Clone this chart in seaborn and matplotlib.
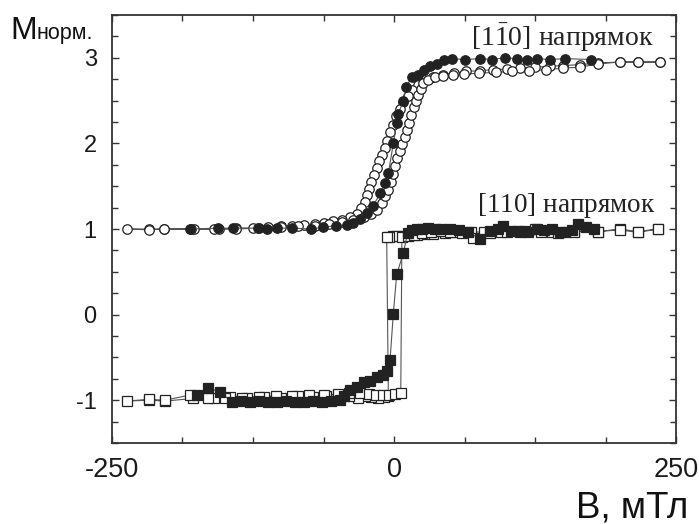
import numpy as np
import pandas as pd
import matplotlib
matplotlib.use("Agg")
import matplotlib.pyplot as plt
from matplotlib.ticker import MultipleLocator
import seaborn as sns

# ---- [1-10] direction: open circles (full loop) ----
circ_open_b = [236, 216, 200, 181, 165, 150, 138, 125, 112, 100, 88, 76, 64, 53, 43, 35,
               27, 21, 16, 12, 8, 5, 2, -1, -3.5, -6, -8, -10.5, -13, -15.5, -18, -20, -22,
               -24, -26, -29, -33, -39, -46, -54, -62, -70, -80, -90, -100, -112, -125, -140,
               -155, -177, -204, -217, -237,
               -217, -204, -180, -160, -140, -120, -100, -85, -70, -58, -46, -36, -27, -20,
               -15, -11, -8, -5.5, -3, -1, 1, 3, 5, 7, 9.5, 11.5, 13.5, 15.5, 17.5, 19.5,
               21.5, 23.5, 26, 30, 36, 43, 52, 62, 75, 90, 105, 120, 135, 150, 165, 181, 200,
               216, 236]
circ_open_m = [2.95, 2.95, 2.95, 2.94, 2.92, 2.91, 2.90, 2.89, 2.88, 2.87, 2.86, 2.85, 2.84,
               2.82, 2.80, 2.78, 2.74, 2.68, 2.62, 2.55, 2.48, 2.40, 2.32, 2.22, 2.13, 2.03,
               1.95, 1.87, 1.79, 1.71, 1.63, 1.55, 1.47, 1.40, 1.32, 1.24, 1.18, 1.14, 1.11,
               1.09, 1.07, 1.06, 1.05, 1.04, 1.03, 1.02, 1.01, 1.01, 1.00, 1.00, 1.00, 1.00,
               1.00,
               0.99, 1.00, 1.00, 1.00, 1.00, 1.01, 1.02, 1.03, 1.04, 1.06, 1.08, 1.11, 1.14,
               1.17, 1.22, 1.30, 1.38, 1.46, 1.55, 1.64, 1.74, 1.83, 1.91, 1.99, 2.07, 2.16,
               2.24, 2.33, 2.42, 2.50, 2.57, 2.64, 2.70, 2.74, 2.77, 2.79, 2.80, 2.81, 2.82,
               2.83, 2.84, 2.85, 2.86, 2.88, 2.89, 2.93, 2.95, 2.95, 2.95]

# ---- [1-10] direction: filled circles ----
circ_fill_b = [-181, -156, -143, -121, -113, -104, -90, -74, -63, -51, -42, -36, -30, -24,
               -18.6, -12, -8, -5, -0.6, 2.4, 3.6, 8, 11, 15.7, 21.5, 27, 32, 38, 44, 51, 63,
               76, 87, 98, 109, 118, 127, 138, 152, 175]
circ_fill_m = [1.00, 1.01, 1.01, 1.01, 1.00, 1.01, 1.01, 1.00, 1.02, 1.04, 1.05, 1.07, 1.12,
               1.19, 1.27, 1.42, 1.54, 1.65, 2.00, 2.24, 2.34, 2.49, 2.66, 2.78, 2.80, 2.86,
               2.90, 2.93, 2.98, 2.99, 2.98, 2.99, 2.98, 3.00, 2.99, 2.98, 2.99, 2.98, 2.99,
               2.98]

# ---- [110] direction: open squares (full loop) ----
sq_open_b = [234, 216, 200, 181, 160, 140, 125, 110, 95, 80, 68, 55, 45, 35, 27, 20, 14, 8,
             3, -1, -4, -6.5, -5, -9, -14, -20, -26, -32, -40, -50, -60, -72, -85, -100, -115,
             -130, -145, -160, -178, -203, -217, -237,
             -217, -203, -181, -165, -150, -135, -120, -105, -90, -75, -62, -50, -40, -30,
             -22, -16, -10, -4, 1, 6, 7, 12, 18, 25, 33, 42, 50, 60, 70, 85, 100, 115, 130,
             145, 160, 181, 200, 216, 234]
sq_open_m = [1.00, 0.97, 1.00, 0.97, 0.98, 0.97, 1.00, 0.98, 0.97, 0.96, 0.97, 0.96, 0.95,
             0.94, 0.94, 0.93, 0.93, 0.92, 0.92, 0.92, 0.91, 0.91, -0.95, -0.96, -0.97,
             -0.96, -0.95, -0.97, -0.95, -0.96, -0.95, -0.96, -0.95, -0.97, -0.96, -0.97,
             -0.96, -0.97, -0.98, -1.01, -1.00, -1.01,
             -0.99, -1.00, -0.94, -0.97, -0.97, -0.97, -0.96, -0.95, -0.95, -0.94, -0.94,
             -0.93, -0.92, -0.92, -0.93, -0.94, -0.94, -0.94, -0.93, -0.92, 0.91, 0.92,
             0.93, 0.95, 0.96, 0.98, 0.97, 0.95, 0.90, 0.95, 0.96, 0.98, 0.97, 0.95, 0.97,
             0.97, 0.99, 0.96, 1.00]

# ---- [110] direction: filled squares ----
sq_fill_b = [-175, -165, -154, -144, -136, -128, -120, -112, -104, -96, -88, -80, -72, -64,
             -56, -48, -44, -39, -33, -27, -21, -15, -10, -6.5, -3.5, -0.6, 2.4, 8.3, 12, 16,
             20, 25, 30, 36, 42, 50, 58, 66, 76, 85, 92, 97, 104, 112, 119, 127, 133, 140,
             147, 152, 158, 163, 170, 177]
sq_fill_m = [-0.94, -0.86, -0.90, -1.02, -1.01, -1.02, -1.01, -1.02, -1.02, -1.01, -1.02,
             -1.02, -1.01, -1.02, -1.01, -1.00, -0.95, -0.88, -0.84, -0.79, -0.77, -0.73,
             -0.70, -0.66, -0.53, 0.01, 0.47, 0.72, 0.95, 0.99, 1.00, 1.00, 1.01, 1.00,
             1.00, 1.00, 0.99, 0.97, 0.88, 0.98, 1.00, 1.03, 0.98, 0.97, 0.96, 1.00, 0.99,
             1.00, 0.97, 0.96, 0.99, 1.06, 1.02, 1.00]

x_ticks = [-250, 0, 250]
y_ticks = [-1, 0, 1, 2, 3]

sns.set_theme(style="ticks")
plt.rcParams["font.family"] = ["Liberation Sans", "DejaVu Sans"]
plt.rcParams["axes.unicode_minus"] = False
plt.rcParams["mathtext.fontset"] = "custom"
plt.rcParams["mathtext.rm"] = "Liberation Serif"

fig = plt.figure(figsize=(6.99, 5.24), dpi=100)
ax = fig.add_axes([112 / 699, 1 - 443 / 524, (676 - 112) / 699, (443 - 15) / 524])

line_col = "#555555"
edge_col = "#222222"
ms = 6.8


def trace(b, m, marker, filled):
    df = pd.DataFrame({"B": b, "M": m})
    sns.lineplot(data=df, x="B", y="M", sort=False, estimator=None, ax=ax,
                 color=line_col, lw=0.8, marker=marker, markersize=ms,
                 markerfacecolor=edge_col if filled else "white",
                 markeredgecolor=edge_col, markeredgewidth=0.9)


trace(circ_open_b, circ_open_m, "o", False)
trace(circ_fill_b, circ_fill_m, "o", True)
trace(sq_open_b, sq_open_m, "s", False)
trace(sq_fill_b, sq_fill_m, "s", True)

ax.set_xlim(-250, 250)
ax.set_ylim(-1.5, 3.5)
ax.set_xticks(x_ticks)
ax.set_yticks(y_ticks)
ax.xaxis.set_minor_locator(MultipleLocator(62.5))
ax.yaxis.set_minor_locator(MultipleLocator(0.25))
ax.set_xlabel("")
ax.set_ylabel("")
ax.tick_params(which="both", direction="in", top=True, right=True,
               color="#333333", width=1.0)
ax.tick_params(which="major", length=5)
ax.tick_params(which="minor", length=4)
ax.tick_params(axis="x", labelsize=19.5, pad=10, labelcolor="#1a1a1a")
ax.tick_params(axis="y", labelsize=17, pad=11, labelcolor="#1a1a1a")
for s in ax.spines.values():
    s.set_color("#333333")
    s.set_linewidth(1.3)

# direction labels
ax.text(149, 3.24, r"$\mathrm{[1\bar{1}0]}$ напрямок", ha="center", va="center",
        fontsize=20, family=["Liberation Serif", "DejaVu Serif"], color="#222222")
ax.text(153, 1.27, r"$\mathrm{[110]}$ напрямок", ha="center", va="center",
        fontsize=19.5, family=["Liberation Serif", "DejaVu Serif"], color="#222222")

# axis titles
fig.text(10 / 699, 1 - 39 / 524, "M", fontsize=23, ha="left", va="baseline",
         color="#111111")
fig.text(37 / 699, 1 - 39 / 524, "норм.", fontsize=15.5, ha="left", va="baseline",
         color="#111111")
fig.text(688 / 699, 1 - 517 / 524, "B, мТл", fontsize=26.5, ha="right",
         va="baseline", color="#111111")

fig.savefig("out.png", dpi=100)
